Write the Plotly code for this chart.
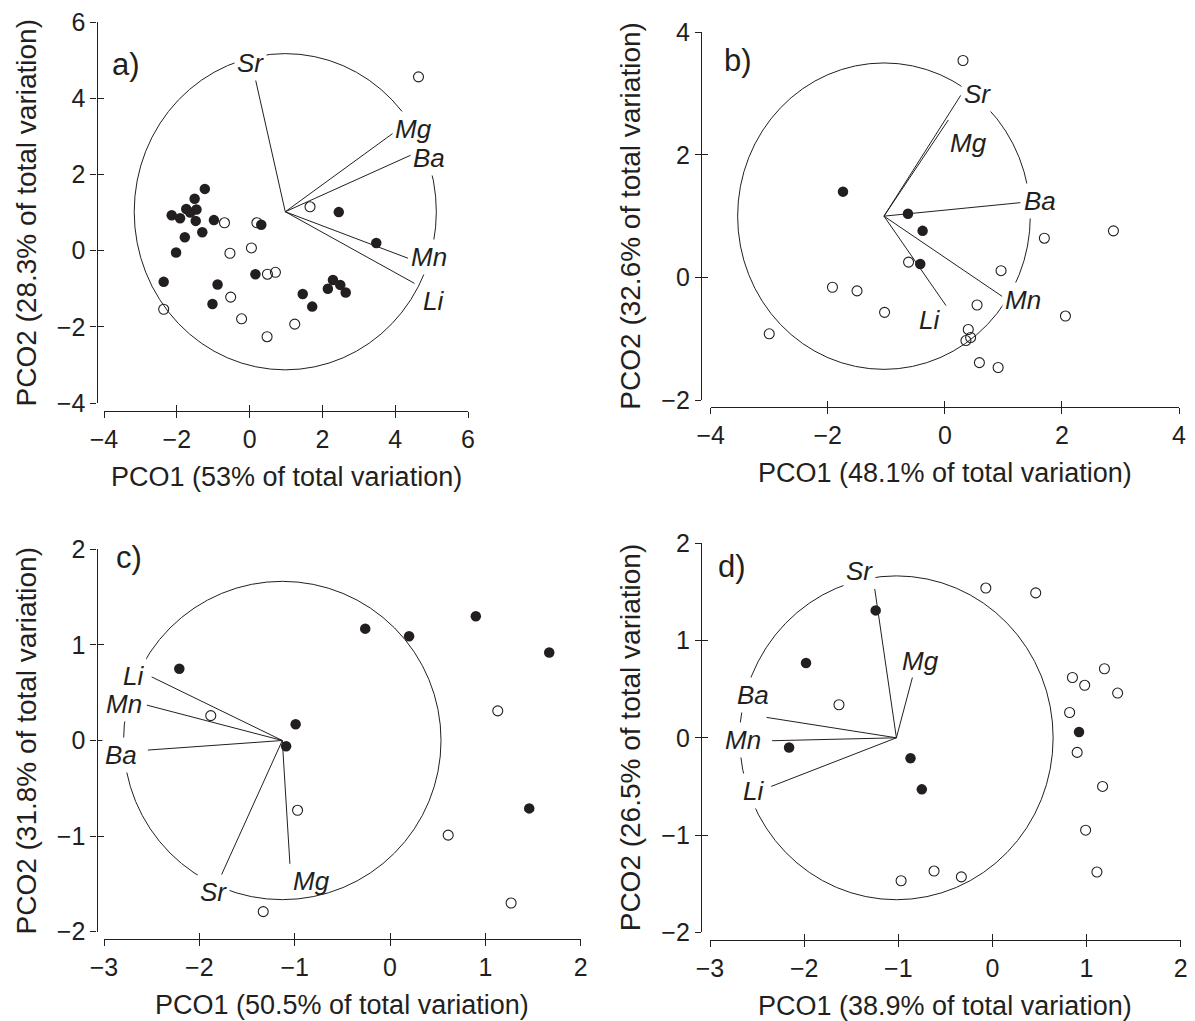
import plotly.graph_objects as go

# the page adds an 8 px body margin, so the figure is made 8 px smaller and
# all page-pixel positions below are shifted by that margin
PAGE_W, PAGE_H = 1195, 1021
OFF = 8
W, H = PAGE_W - OFF, PAGE_H - OFF
INK = "#231f20"
FONT = "Liberation Sans, Arial, Helvetica, sans-serif"

elements_a = ["Sr", "Mg", "Ba", "Mn", "Li"]
elements_b = ["Sr", "Mg", "Ba", "Mn", "Li"]
elements_c = ["Li", "Mn", "Ba", "Sr", "Mg"]
elements_d = ["Sr", "Mg", "Ba", "Mn", "Li"]

# ---------------- panel a ----------------
filled_a_x = [-1.23, -1.51, -1.74, -1.46, -1.63, -2.14, -1.91, -1.48, -0.98, -1.30, -1.78, -2.02,
              0.32, 2.45, 3.48, -2.36, 0.16, -0.88, -1.02, 1.46, 1.72, 2.29, 2.15, 2.49, 2.64]
filled_a_y = [1.62, 1.36, 1.09, 1.08, 1.00, 0.93, 0.85, 0.78, 0.80, 0.48, 0.35, -0.05,
              0.68, 1.01, 0.20, -0.82, -0.62, -0.89, -1.40, -1.14, -1.47, -0.77, -1.00, -0.90, -1.10]
open_a_x = [4.64, 1.66, -0.69, 0.20, -0.54, 0.05, 0.49, 0.71, -0.52, -0.22, 0.48, 1.24, -2.36]
open_a_y = [4.56, 1.15, 0.73, 0.73, -0.07, 0.07, -0.62, -0.57, -1.22, -1.79, -2.26, -1.93, -1.54]
center_a = [0.98, 1.02]
radius_a = 4.15
vec_a_x = [0.16, 3.94, 4.44, 4.35, 4.53]
vec_a_y = [4.50, 3.08, 2.51, -0.20, -0.86]
lab_a_x = [0.02, 4.50, 4.93, 4.92, 5.05]
lab_a_y = [4.93, 3.20, 2.44, -0.18, -1.32]
mask_a = [True, True, True, True, True]

# ---------------- panel b ----------------
filled_b_x = [-1.74, -0.63, -0.38, -0.42]
filled_b_y = [1.40, 1.04, 0.76, 0.22]
open_b_x = [0.31, 2.88, 1.70, 0.96, -0.62, -1.92, -1.50, -1.03, -3.00, 0.55, 2.06, 0.40, 0.44, 0.36, 0.59, 0.91]
open_b_y = [3.54, 0.76, 0.64, 0.11, 0.25, -0.16, -0.22, -0.57, -0.92, -0.45, -0.63, -0.85, -0.98, -1.03, -1.39, -1.47]
center_b = [-1.04, 1.00]
radius_b = 2.50
vec_b_x = [0.27, 0.06, 1.29, 0.98, 0.02]
vec_b_y = [2.97, 2.57, 1.22, -0.31, -0.46]
lab_b_x = [0.56, 0.41, 1.62, 1.34, -0.27]
lab_b_y = [2.99, 2.19, 1.24, -0.37, -0.70]
mask_b = [True, False, True, True, False]

# ---------------- panel c ----------------
filled_c_x = [-2.21, -0.26, 0.20, 0.90, 1.67, -0.99, -1.09, 1.46]
filled_c_y = [0.75, 1.17, 1.09, 1.30, 0.92, 0.17, -0.06, -0.71]
open_c_x = [-1.88, 1.13, -0.97, 0.61, 1.27, -1.33]
open_c_y = [0.26, 0.31, -0.73, -0.99, -1.70, -1.79]
center_c = [-1.13, 0.00]
radius_c = 1.665
vec_c_x = [-2.50, -2.55, -2.54, -1.77, -1.05]
vec_c_y = [0.665, 0.37, -0.10, -1.41, -1.29]
lab_c_x = [-2.69, -2.79, -2.82, -1.85, -0.82]
lab_c_y = [0.67, 0.38, -0.15, -1.58, -1.47]
mask_c = [True, True, True, True, False]

# ---------------- panel d ----------------
filled_d_x = [-1.24, -1.98, -2.16, -0.87, -0.75, 0.92]
filled_d_y = [1.31, 0.77, -0.10, -0.21, -0.53, 0.06]
open_d_x = [-0.07, 0.46, -1.63, 0.85, 0.98, 1.19, 1.33, 0.82, 0.90, 1.17, 0.99, 1.11, -0.97, -0.62, -0.33]
open_d_y = [1.54, 1.49, 0.34, 0.62, 0.54, 0.71, 0.46, 0.26, -0.15, -0.50, -0.95, -1.38, -1.47, -1.37, -1.43]
center_d = [-1.02, 0.00]
radius_d = 1.665
vec_d_x = [-1.25, -0.85, -2.40, -2.34, -2.35]
vec_d_y = [1.53, 0.62, 0.21, -0.03, -0.50]
lab_d_x = [-1.41, -0.76, -2.54, -2.65, -2.54]
lab_d_y = [1.72, 0.79, 0.44, -0.02, -0.55]
mask_d = [True, False, True, True, True]

# axis settings per panel
panel_letters = ["a)", "b)", "c)", "d)"]
x_titles = ["PCO1 (53% of total variation)", "PCO1 (48.1% of total variation)",
            "PCO1 (50.5% of total variation)", "PCO1 (38.9% of total variation)"]
y_titles = ["PCO2 (28.3% of total variation)", "PCO2 (32.6% of total variation)",
            "PCO2 (31.8% of total variation)", "PCO2 (26.5% of total variation)"]
x_ticks = [[-4, -2, 0, 2, 4, 6], [-4, -2, 0, 2, 4], [-3, -2, -1, 0, 1, 2], [-3, -2, -1, 0, 1, 2]]
y_ticks = [[-4, -2, 0, 2, 4, 6], [-2, 0, 2, 4], [-2, -1, 0, 1, 2], [-2, -1, 0, 1, 2]]

panels = [
    dict(fx=filled_a_x, fy=filled_a_y, ox=open_a_x, oy=open_a_y, c=center_a, r=radius_a,
         vx=vec_a_x, vy=vec_a_y, lx=lab_a_x, ly=lab_a_y, el=elements_a, mask=mask_a),
    dict(fx=filled_b_x, fy=filled_b_y, ox=open_b_x, oy=open_b_y, c=center_b, r=radius_b,
         vx=vec_b_x, vy=vec_b_y, lx=lab_b_x, ly=lab_b_y, el=elements_b, mask=mask_b),
    dict(fx=filled_c_x, fy=filled_c_y, ox=open_c_x, oy=open_c_y, c=center_c, r=radius_c,
         vx=vec_c_x, vy=vec_c_y, lx=lab_c_x, ly=lab_c_y, el=elements_c, mask=mask_c),
    dict(fx=filled_d_x, fy=filled_d_y, ox=open_d_x, oy=open_d_y, c=center_d, r=radius_d,
         vx=vec_d_x, vy=vec_d_y, lx=lab_d_x, ly=lab_d_y, el=elements_d, mask=mask_d),
]

# page-pixel layout of each panel: x-domain, y-domain (top, bottom), y-axis line x, x-axis line y
geom = [
    dict(x0=104, x1=468, yt=22, yb=403, yax=96.5, xax=411),
    dict(x0=710.7, x1=1179, yt=32.3, yb=400, yax=701, xax=407),
    dict(x0=104, x1=580.7, yt=549.3, yb=931.7, yax=96.5, xax=939),
    dict(x0=710, x1=1180.7, yt=543.3, yb=932.3, yax=701, xax=939.5),
]
letter_pos = [(126, 64.5), (738, 61), (129, 557), (732, 566)]
ytitle_x = [26, 630.5, 26, 630.5]


def fx(px):
    return (px - OFF) / W


def fy(py):
    return 1 - (py - OFF) / H


fig = go.Figure()
layout = {}
mask_annots = []
text_annots = []


def ax_id(n):
    return ("x" if n == 1 else f"x{n}"), ("y" if n == 1 else f"y{n}")


for i, p in enumerate(panels):
    n = i + 1
    xa, ya = ax_id(n)
    g = geom[i]
    cx, cy = p["c"]
    r = p["r"]

    fig.add_shape(type="circle", xref=xa, yref=ya, x0=cx - r, x1=cx + r, y0=cy - r, y1=cy + r,
                  line=dict(color=INK, width=1), layer="below")

    lx, ly = [], []
    for ex, ey in zip(p["vx"], p["vy"]):
        lx += [cx, ex, None]
        ly += [cy, ey, None]
    fig.add_trace(go.Scatter(x=lx, y=ly, mode="lines", line=dict(color=INK, width=1),
                             xaxis=xa, yaxis=ya, hoverinfo="skip", showlegend=False))
    fig.add_trace(go.Scatter(x=p["ox"], y=p["oy"], mode="markers",
                             marker=dict(symbol="circle-open", size=10, color=INK, line=dict(width=1.1)),
                             xaxis=xa, yaxis=ya, hoverinfo="skip", showlegend=False))
    fig.add_trace(go.Scatter(x=p["fx"], y=p["fy"], mode="markers",
                             marker=dict(symbol="circle", size=10.5, color=INK, line=dict(width=0)),
                             xaxis=xa, yaxis=ya, hoverinfo="skip", showlegend=False))

    for name, tx, ty, m in zip(p["el"], p["lx"], p["ly"], p["mask"]):
        if m:
            mask_annots.append(dict(x=tx, y=ty, xref=xa, yref=ya, text=f"<i>{name}</i>", showarrow=False,
                                    font=dict(family=FONT, size=26, color="white"),
                                    bgcolor="white", borderpad=2))
        text_annots.append(dict(x=tx, y=ty, xref=xa, yref=ya, text=f"<i>{name}</i>", showarrow=False,
                                font=dict(family=FONT, size=26, color=INK)))

    xdom = [fx(g["x0"]), fx(g["x1"])]
    ydom = [fy(g["yb"]), fy(g["yt"])]
    xr = [x_ticks[i][0], x_ticks[i][-1]]
    yr = [y_ticks[i][0], y_ticks[i][-1]]
    common = dict(showgrid=False, zeroline=False, fixedrange=True, ticklen=6, tickwidth=1.3,
                  automargin=False, tickcolor=INK, tickfont=dict(family=FONT, size=25, color=INK))
    layout["xaxis" if n == 1 else f"xaxis{n}"] = dict(
        domain=xdom, range=xr, anchor="free", position=fy(g["xax"]), ticklabeloverflow="allow",
        tickvals=x_ticks[i], ticks="outside", showline=True, linecolor=INK, linewidth=1.3, **common)
    layout["yaxis" if n == 1 else f"yaxis{n}"] = dict(
        domain=ydom, range=yr, anchor="free", position=fx(g["yax"]), ticklabeloverflow="allow",
        tickvals=y_ticks[i], ticks="outside", showline=True, linecolor=INK, linewidth=1.3, **common)
    # overlay axes giving the inner half of the crossing ticks
    on = n + 4
    layout[f"xaxis{on}"] = dict(overlaying=xa, domain=xdom, range=xr, anchor="free",
                                position=fy(g["xax"]), tickvals=x_ticks[i], ticks="inside",
                                showticklabels=False, showline=False, **common)
    layout[f"yaxis{on}"] = dict(overlaying=ya, domain=ydom, range=yr, anchor="free",
                                position=fx(g["yax"]), tickvals=y_ticks[i], ticks="inside",
                                showticklabels=False, showline=False, **common)
    fig.add_trace(go.Scatter(x=[None], y=[None], xaxis=f"x{on}", yaxis=ya, mode="markers",
                             hoverinfo="skip", showlegend=False))
    fig.add_trace(go.Scatter(x=[None], y=[None], xaxis=xa, yaxis=f"y{on}", mode="markers",
                             hoverinfo="skip", showlegend=False))

    # axis titles
    text_annots.append(dict(x=fx((g["x0"] + g["x1"]) / 2), y=fy(g["xax"] + 66), xref="paper", yref="paper",
                            text=x_titles[i], showarrow=False, xanchor="center", yanchor="middle",
                            font=dict(family=FONT, size=27, color=INK)))
    text_annots.append(dict(x=fx(ytitle_x[i]), y=fy((g["yt"] + g["yb"]) / 2), xref="paper", yref="paper",
                            text=y_titles[i], showarrow=False, textangle=-90, xanchor="center",
                            yanchor="middle", font=dict(family=FONT, size=28, color=INK)))
    # panel letter
    px, py = letter_pos[i]
    text_annots.append(dict(x=fx(px), y=fy(py), xref="paper", yref="paper", text=panel_letters[i],
                            showarrow=False, xanchor="center", yanchor="middle",
                            font=dict(family=FONT, size=31, color=INK)))

fig.update_layout(width=W, height=H, margin=dict(l=0, r=0, t=0, b=0, autoexpand=False),
                  paper_bgcolor="white", plot_bgcolor="rgba(0,0,0,0)",
                  font=dict(family=FONT, color=INK), showlegend=False,
                  annotations=mask_annots + text_annots, **layout)

fig.write_html("out.html")
